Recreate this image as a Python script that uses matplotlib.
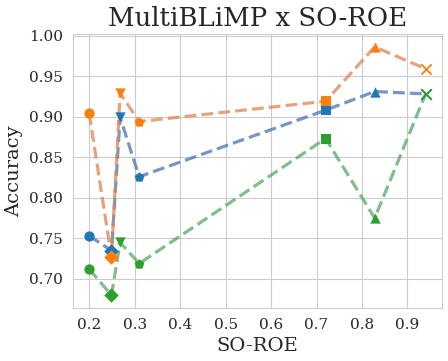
import matplotlib
matplotlib.use("Agg")
import matplotlib.pyplot as plt
import seaborn as sns

# SO-ROE score of each model, with its marker
so_roe = [0.20, 0.249, 0.268, 0.31, 0.72, 0.828, 0.94]
markers = ["o", "D", "v", "p", "s", "^", "x"]

# accuracy per series
acc_blue = [0.753, 0.735, 0.899, 0.826, 0.908, 0.931, 0.928]
acc_orange = [0.904, 0.727, 0.929, 0.894, 0.919, 0.986, 0.959]
acc_green = [0.712, 0.680, 0.745, 0.719, 0.873, 0.775, 0.928]

series = [
    (acc_blue, "#1f77b4", "#4c72b0"),
    (acc_orange, "#ff7f0e", "#dd8452"),
    (acc_green, "#2ca02c", "#55a868"),
]

sns.set_style("whitegrid")
plt.rcParams["font.family"] = ["DejaVu Serif"]

fig, ax = plt.subplots(figsize=(4.48, 3.61), dpi=100)

for acc, mcol, lcol in series:
    ax.plot(so_roe, acc, linestyle="--", color=lcol, linewidth=2.3, alpha=0.75, zorder=2)
    for x, y, m in zip(so_roe, acc, markers):
        ax.scatter(x, y, marker=m, color=mcol, s=55, zorder=3,
                   linewidths=1.3 if m == "x" else 0)

ax.set_title("MultiBLiMP x SO-ROE", fontsize=18.7)
ax.set_xlabel("SO-ROE", fontsize=14)
ax.set_ylabel("Accuracy", fontsize=14)
ax.set_xticks([0.2, 0.3, 0.4, 0.5, 0.6, 0.7, 0.8, 0.9])
ax.set_yticks([0.70, 0.75, 0.80, 0.85, 0.90, 0.95, 1.00])
ax.set_ylim(0.664, 1.002)
ax.set_xlim(0.164, 0.977)
ax.tick_params(labelsize=11)

fig.tight_layout(pad=0.4)
fig.savefig("out.png", dpi=100)
